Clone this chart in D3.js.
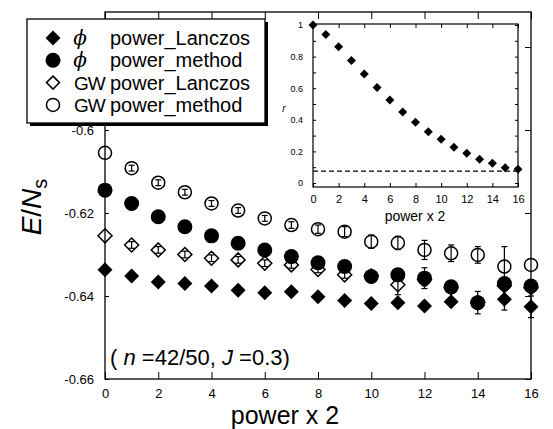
<!DOCTYPE html>
<html>
<head>
<meta charset="utf-8">
<script src="https://d3js.org/d3.v7.min.js"></script>
<style>
  body { margin: 0; background: #fff; }
  svg { display: block; font-family: "Liberation Sans", Arial, sans-serif; }
</style>
</head>
<body>
<svg width="553" height="429"></svg>
<script>
// power x 2 (number of power steps)
const powers = d3.range(0, 17);

// main panel: energy per site
const phiLanczos    = [-0.6337,-0.6352,-0.6366,-0.6370,-0.6376,-0.6386,-0.6392,-0.6390,-0.6402,-0.6411,-0.6418,-0.6416,-0.6424,-0.6414,-0.6418,-0.6408,-0.6426];
const phiLanczosErr = [0,0,0,0,0,0,0,0,0,0,0,0,0,0,0,0.0026,0.0026];
const phiMethod     = [-0.6145,-0.6177,-0.6209,-0.6233,-0.6255,-0.6273,-0.6289,-0.6305,-0.6320,-0.6329,-0.6353,-0.6349,-0.6357,-0.6378,-0.6416,-0.6370,-0.6376];
const phiMethodErr  = [0,0,0,0,0,0,0,0,0,0,0,0,0.0025,0,0.0027,0,0];
const gwLanczos     = [-0.6255,-0.6277,-0.6289,-0.6300,-0.6309,-0.6313,-0.6321,-0.6325,-0.6336,-0.6349,-0.6352,-0.6373,-0.6360,-0.6380,-0.6415,-0.6375,-0.6380];
const gwLanczosErr  = [0,0.0008,0.0008,0.0008,0.0008,0.0008,0.0008,0.0008,0.0008,0.0008,0.001,0.0024,0.0015,0.001,0.001,0.001,0.001];
const gwMethod      = [-0.6055,-0.6092,-0.6127,-0.6150,-0.6177,-0.6194,-0.6213,-0.6229,-0.6239,-0.6245,-0.6269,-0.6272,-0.6289,-0.6297,-0.6301,-0.6329,-0.6325];
const gwMethodErr   = [0,0.0007,0.0007,0.0007,0.0007,0.0007,0.0007,0.0008,0.001,0.0012,0.0016,0.0016,0.0023,0.002,0.002,0.0048,0];

const xTicks = [0, 2, 4, 6, 8, 10, 12, 14, 16];
const yTicks = [-0.66, -0.64, -0.62, -0.60, -0.58];
const yTickLabels = ["-0.66", "-0.64", "-0.62", "-0.6", ""];

// inset: ratio r
const rRatio = [1.0,0.94,0.863,0.776,0.69,0.605,0.525,0.45,0.384,0.325,0.277,0.226,0.188,0.15,0.125,0.097,0.087];
const rThreshold = 0.075;
const insetYTicks = [0, 0.2, 0.4, 0.6, 0.8, 1];
const insetYLabels = ["0", "0.2", "0.4", "0.6", "0.8", "1"];

const svg = d3.select("svg");

// ---- main panel ----
const x = d3.scaleLinear().domain([0, 16]).range([105, 531]);
const y = d3.scaleLinear().domain([-0.66, -0.58]).range([379, 47]);
const plotTop = 12;

svg.append("rect")
    .attr("x", x(0)).attr("y", plotTop)
    .attr("width", x(16) - x(0)).attr("height", y(-0.66) - plotTop)
    .attr("fill", "none").attr("stroke", "#000").attr("stroke-width", 1.3);

const gx = svg.append("g").attr("transform", `translate(0,${y(-0.66)})`)
    .call(d3.axisBottom(x).tickValues(xTicks).tickSizeInner(-7).tickSizeOuter(0).tickPadding(10));
gx.select(".domain").remove();
gx.selectAll("text").attr("font-size", 13).attr("fill", "#000");

const gxTop = svg.append("g").attr("transform", `translate(0,${plotTop})`)
    .call(d3.axisTop(x).tickValues(xTicks).tickSizeInner(-7).tickSizeOuter(0).tickFormat(""));
gxTop.select(".domain").remove();

const gy = svg.append("g").attr("transform", `translate(${x(0)},0)`)
    .call(d3.axisLeft(y).tickValues(yTicks.slice(0, 4)).tickSizeInner(-4).tickSizeOuter(0).tickPadding(11)
      .tickFormat((d, i) => yTickLabels[i]));
gy.select(".domain").remove();
gy.selectAll("text").attr("font-size", 13).attr("fill", "#000");

const gyR = svg.append("g").attr("transform", `translate(${x(16)},0)`)
    .call(d3.axisRight(y).tickValues(yTicks).tickSizeInner(-6).tickSizeOuter(0).tickFormat(""));
gyR.select(".domain").remove();

// axis titles
svg.append("text")
    .attr("x", 285).attr("y", 424)
    .attr("text-anchor", "middle").attr("font-size", 25)
    .text("power x 2");

const yl = svg.append("text")
    .attr("transform", "translate(41,207) rotate(-90)")
    .attr("text-anchor", "middle").attr("font-size", 28);
yl.append("tspan").attr("font-style", "italic").text("E");
yl.append("tspan").text("/");
yl.append("tspan").attr("font-style", "italic").text("N");
yl.append("tspan").attr("font-size", 20).attr("dy", 6).text("s");

// annotation
const ann = svg.append("text")
    .attr("x", 110).attr("y", 365).attr("font-size", 22);
ann.append("tspan").text("( ");
ann.append("tspan").attr("font-style", "italic").text("n");
ann.append("tspan").text(" =42/50, ");
ann.append("tspan").attr("font-style", "italic").text("J");
ann.append("tspan").text(" =0.3)");

// markers
const diamond = r => `M0,${-r}L${r},0L0,${r}L${-r},0Z`;

function drawSeries(values, errs, shape, filled, size) {
  const g = svg.append("g");
  const pts = powers.map((p, i) => ({ p, v: values[i], e: errs[i] }));
  // error bars
  const eb = g.selectAll("g.err").data(pts.filter(d => d.e > 0)).join("g")
      .attr("stroke", "#000").attr("stroke-width", 1.2);
  eb.append("line")
      .attr("x1", d => x(d.p)).attr("x2", d => x(d.p))
      .attr("y1", d => y(d.v - d.e)).attr("y2", d => y(d.v + d.e));
  eb.append("line")
      .attr("x1", d => x(d.p) - 3).attr("x2", d => x(d.p) + 3)
      .attr("y1", d => y(d.v - d.e)).attr("y2", d => y(d.v - d.e));
  eb.append("line")
      .attr("x1", d => x(d.p) - 3).attr("x2", d => x(d.p) + 3)
      .attr("y1", d => y(d.v + d.e)).attr("y2", d => y(d.v + d.e));
  // symbols (open ones are hollow so the error bar shows inside)
  const sym = g.selectAll("path.sym").data(pts).join("path")
      .attr("transform", d => `translate(${x(d.p)},${y(d.v)})`)
      .attr("fill", filled ? "#000" : "none")
      .attr("stroke", "#000").attr("stroke-width", filled ? 0 : 1.5);
  if (shape === "diamond") sym.attr("d", diamond(size));
  else sym.attr("d", d3.arc()({ innerRadius: 0, outerRadius: size, startAngle: 0, endAngle: 2 * Math.PI }));
}

drawSeries(gwLanczos, gwLanczosErr, "diamond", false, 7);
drawSeries(gwMethod, gwMethodErr, "circle", false, 6.5);
drawSeries(phiMethod, phiMethodErr, "circle", true, 7.5);
drawSeries(phiLanczos, phiLanczosErr, "diamond", true, 7.5);

// ---- legend ----
const leg = svg.append("g");
leg.append("rect").attr("x", 30).attr("y", 22).attr("width", 238).attr("height", 104).attr("fill", "#000");
leg.append("rect").attr("x", 27).attr("y", 19).attr("width", 238).attr("height", 104)
    .attr("fill", "#fff").attr("stroke", "#000").attr("stroke-width", 1.3);

const legendRows = [
  { pre: "\u03d5", italic: true, name: "power_Lanczos", shape: "diamond", filled: true },
  { pre: "\u03d5", italic: true, name: "power_method", shape: "circle", filled: true },
  { pre: "GW", italic: false, name: "power_Lanczos", shape: "diamond", filled: false },
  { pre: "GW", italic: false, name: "power_method", shape: "circle", filled: false }
];
legendRows.forEach((r, i) => {
  const cy = 38 + i * 22.3;
  const s = leg.append("path").attr("transform", `translate(53,${cy})`)
      .attr("fill", r.filled ? "#000" : "#fff").attr("stroke", "#000")
      .attr("stroke-width", r.filled ? 0 : 1.5);
  if (r.shape === "diamond") s.attr("d", diamond(r.filled ? 7.5 : 6.5));
  else s.attr("d", d3.arc()({ innerRadius: 0, outerRadius: r.filled ? 7.5 : 6.5, startAngle: 0, endAngle: 2 * Math.PI }));
  const pre = leg.append("text")
      .attr("y", cy + 7).attr("font-size", r.italic ? 20 : 19)
      .attr("font-style", r.italic ? "italic" : "normal")
      .text(r.pre);
  if (r.italic) pre.attr("x", 80).attr("text-anchor", "middle").attr("font-family", "'DejaVu Serif', serif");
  else pre.attr("x", 74).attr("letter-spacing", -1);
  leg.append("text").attr("x", 110).attr("y", cy + 7).attr("font-size", 20).text(r.name);
});

// ---- inset ----
const xi = d3.scaleLinear().domain([0, 16]).range([313, 518]);
const yi = d3.scaleLinear().domain([0, 1]).range([183, 25]);
const inset = svg.append("g");
inset.append("rect").attr("x", 313).attr("y", 24).attr("width", 205).attr("height", 163)
    .attr("fill", "#fff").attr("stroke", "#000").attr("stroke-width", 1.2);

const ixb = inset.append("g").attr("transform", "translate(0,187)")
    .call(d3.axisBottom(xi).tickValues(xTicks).tickSizeInner(-4).tickSizeOuter(0).tickPadding(8));
ixb.select(".domain").remove();
ixb.selectAll("text").attr("font-size", 11).attr("fill", "#000");
const ixt = inset.append("g").attr("transform", "translate(0,24)")
    .call(d3.axisTop(xi).tickValues(xTicks).tickSizeInner(-4).tickSizeOuter(0).tickFormat(""));
ixt.select(".domain").remove();

const iyl = inset.append("g").attr("transform", "translate(313,0)")
    .call(d3.axisLeft(yi).ticks(10).tickSizeInner(-3).tickSizeOuter(0).tickFormat(""));
iyl.select(".domain").remove();
const iylab = inset.append("g").attr("transform", "translate(313,0)")
    .call(d3.axisLeft(yi).tickValues(insetYTicks).tickSize(0).tickPadding(10)
      .tickFormat((d, i) => insetYLabels[i]));
iylab.select(".domain").remove();
iylab.selectAll("text").attr("font-size", 9).attr("fill", "#000");
const iyr = inset.append("g").attr("transform", "translate(518,0)")
    .call(d3.axisRight(yi).ticks(10).tickSizeInner(-3).tickSizeOuter(0).tickFormat(""));
iyr.select(".domain").remove();

inset.append("line")
    .attr("x1", xi(0)).attr("x2", xi(16))
    .attr("y1", yi(rThreshold)).attr("y2", yi(rThreshold))
    .attr("stroke", "#000").attr("stroke-width", 1.2).attr("stroke-dasharray", "5,3");

inset.selectAll("path.r").data(rRatio).join("path")
    .attr("transform", (d, i) => `translate(${xi(powers[i])},${yi(d)})`)
    .attr("d", diamond(4.5)).attr("fill", "#000");

inset.append("text").attr("x", 415).attr("y", 221).attr("text-anchor", "middle")
    .attr("font-size", 14).text("power  x  2");
inset.append("text").attr("x", 284).attr("y", 112).attr("text-anchor", "middle")
    .attr("font-size", 10).attr("font-style", "italic").text("r");
</script>
</body>
</html>
